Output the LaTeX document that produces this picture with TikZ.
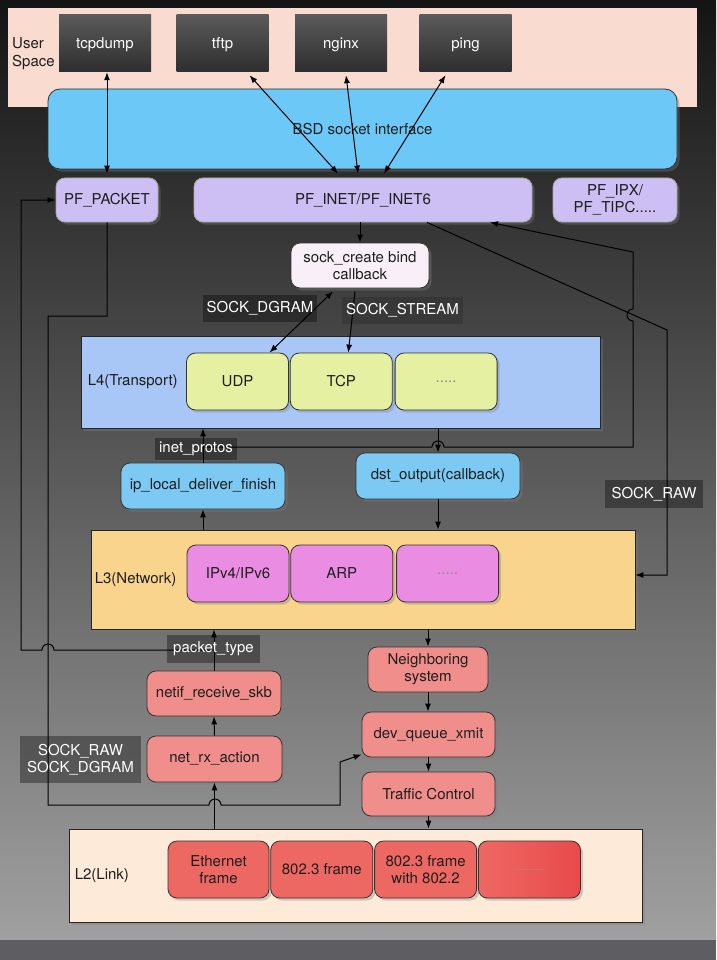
\documentclass[tikz,border=0pt]{standalone}
\usepackage{fontspec}
\setmainfont{TeX Gyre Heros}
\usepackage{xcolor}
\usepackage{tikz}
\usetikzlibrary{arrows.meta,positioning,shadows}
\definecolor{bgtop}{HTML}{141414}
\definecolor{bgbot}{HTML}{A0A0A0}
\definecolor{band}{HTML}{5E5E62}
\definecolor{ink}{HTML}{1E1E1E}
\definecolor{usr}{HTML}{FADBCF}
\definecolor{appdark}{HTML}{2E2E2E}
\definecolor{applight}{HTML}{5A5A5A}
\definecolor{bsd}{HTML}{6CC8F6}
\definecolor{pf}{HTML}{CDBEF4}
\definecolor{sock}{HTML}{F8EFF8}
\definecolor{trans}{HTML}{A8C6F6}
\definecolor{lime}{HTML}{E6F0A2}
\definecolor{callc}{HTML}{7CC9F4}
\definecolor{net}{HTML}{F9D48C}
\definecolor{ipc}{HTML}{EA8DE2}
\definecolor{drv}{HTML}{F08E8C}
\definecolor{link}{HTML}{FDEAD9}
\definecolor{frm}{HTML}{EE6863}
\definecolor{frmdeep}{HTML}{E84A4A}
\tikzset{
  line/.style={draw=black, line width=1pt},
  arr/.style={line, -{Latex[length=8pt,width=6pt]}},
  rarr/.style={line, {Latex[length=8pt,width=6pt]}-},
  both/.style={line, {Latex[length=8pt,width=6pt]}-{Latex[length=8pt,width=6pt]}},
  app/.style={top color=applight, bottom color=appdark, text=white, minimum width=92pt, inner ysep=0pt, text height=34pt, text depth=23pt},
  layer/.style={draw=black!85, line width=0.8pt, drop shadow={opacity=0.35}},
  box/.style={draw=black!80, line width=0.8pt, rounded corners=9pt, align=center, drop shadow={opacity=0.35}},
  pfbox/.style={box, fill=pf, draw=black!35, minimum height=44pt},
  proto/.style={box, minimum width=102pt, minimum height=57pt},
  callbox/.style={box, fill=callc, minimum width=164pt, minimum height=46pt},
  drvbox/.style={box, fill=drv, minimum height=45pt},
  tag/.style={fill=black, fill opacity=0.35, text opacity=1, text=white, inner xsep=4pt, minimum height=27pt, align=center},
  lbl/.style={anchor=west, inner sep=0pt},
}
\begin{document}
\begin{tikzpicture}[x=1pt, y=-1pt, every node/.style={font=\fontsize{15}{17}\selectfont, text=ink}]
\useasboundingbox (0,0) rectangle (716,960);
\shade[top color=bgtop, bottom color=bgbot] (0,0) rectangle (716,940);
\fill[band] (0,940) rectangle (716,960);

\node[fill=usr, minimum width=689pt, minimum height=99pt, inner sep=0pt] (user) at (352.5,57.5) {};
\node[lbl, align=left] (userlbl) at (12,54) {User\\[1pt]Space};
\node[app] (tcpdump) at (105,43.5) {tcpdump};
\node[app] (tftp) at (222.5,43.5) {tftp};
\node[app] (nginx) at (341,43.5) {nginx};
\node[app] (ping) at (465.5,43.5) {ping};

\node[box, fill=bsd, rounded corners=12pt, minimum width=629pt, minimum height=80pt] (bsd) at (362.5,129) {BSD socket interface};

\node[pfbox, minimum width=102pt] (pfpacket) at (107,200) {PF\_PACKET};
\node[pfbox, minimum width=338pt] (pfinet) at (363,200) {PF\_INET/PF\_INET6};
\node[pfbox, minimum width=124pt] (pfipx) at (615,200) {PF\_IPX/\\PF\_TIPC.....};

\node[box, fill=sock, minimum width=138pt, minimum height=45pt] (sockcreate) at (360,265.5) {sock\_create bind\\callback};

\node[layer, fill=trans, minimum width=519pt, minimum height=92pt] (l4) at (340.5,382) {};
\node[lbl, xshift=7pt] (l4lbl) at (l4.west) {L4(Transport)};
\node[proto, fill=lime] (udp) at (237.5,381.5) {UDP};
\node[proto, fill=lime, right=1pt of udp] (tcp) {TCP};
\node[proto, fill=lime, right=2pt of tcp] (l4more) {\textcolor{black!45}{.....}};

\node[callbox] (iplocal) at (203,486) {ip\_local\_deliver\_finish};
\node[callbox] (dstout) at (438,476) {dst\_output(callback)};

\node[layer, fill=net, minimum width=544pt, minimum height=99pt] (l3) at (363,579.5) {};
\node[lbl, xshift=4pt] (l3lbl) at (l3.west) {L3(Network)};
\node[proto, fill=ipc] (ipv) at (238,573.5) {IPv4/IPv6};
\node[proto, fill=ipc, right=1pt of ipv] (arp) {ARP};
\node[proto, fill=ipc, right=3pt of arp] (l3more) {\textcolor{black!45}{.....}};

\node[drvbox, minimum width=120pt] (neigh) at (428,669.5) {Neighboring\\system};
\node[drvbox, minimum width=134pt] (netif) at (214,693.5) {netif\_receive\_skb};
\node[drvbox, minimum width=133pt] (devq) at (428.5,734.5) {dev\_queue\_xmit};
\node[drvbox, minimum width=135pt, minimum height=46pt] (netrx) at (214.5,759) {net\_rx\_action};
\node[drvbox, minimum width=133pt, minimum height=44pt] (tc) at (428.5,794) {Traffic Control};

\node[layer, fill=link, minimum width=573pt, minimum height=93pt] (l2) at (355.5,875.5) {};
\node[lbl, xshift=6pt] (l2lbl) at (l2.west) {L2(Link)};
\node[proto, fill=frm, minimum width=101pt] (eth) at (218.5,869.5) {Ethernet\\frame};
\node[proto, fill=frm, right=1pt of eth] (dot3) {802.3 frame};
\node[proto, fill=frm, right=1pt of dot3] (dot2) {802.3 frame\\with 802.2};
\node[proto, left color=frm, right color=frmdeep, right=1pt of dot2] (l2more) {\textcolor{black!40}{\fontsize{10}{12}\selectfont ...........}};

\coordinate (protojn) at (203,447);
\coordinate (ptjn) at (214,650);
\coordinate (rawup) at (633,252);
\coordinate (rawdn) at (667,330);

\draw[both] (tcpdump.south -| pfpacket.north) -- ([shift={(0,-4)}]pfpacket.north);
\draw[both] ([shift={(27,3)}]tftp.south) -- ([shift={(-25,-4)}]pfinet.north);
\draw[both] ([shift={(5,3)}]nginx.south) -- ([shift={(-5,-4)}]pfinet.north);
\draw[both] ([shift={(-20,3)}]ping.south) -- ([shift={(21,-4)}]pfinet.north);
\draw[arr] (sockcreate.north |- pfinet.south) -- (sockcreate.north);
\draw[both] ([shift={(-27,3)}]sockcreate.south) -- ([shift={(32,0)}]udp.north);
\draw[arr] ([shift={(-5,3)}]sockcreate.south) -- ([shift={(7,0)}]tcp.north);

\draw[rarr] ([shift={(127,0)}]pfinet.south) -- (rawup) -- (633,309)
  arc[start angle=-90, end angle=-270, radius=6] -- (633,447) -- (444,447)
  arc[start angle=0, end angle=-180, radius=6] -- (protojn);
\draw[arr] ([shift={(64,0)}]pfinet.south) -- (rawdn) -- (667,575) -- ([shift={(0,-4.5)}]l3.east);
\draw[arr] (iplocal.north) -- (iplocal.north |- l4.south);
\draw[arr] (dstout.north |- l4.south) -- (dstout.north);
\draw[arr] (iplocal.south |- l3.north) -- (iplocal.south);
\draw[arr] (dstout.south) -- (dstout.south |- l3.north);

\draw[arr] (netif.north) -- (netif.north |- l3.south);
\draw[arr] (ptjn) -- (54,650) arc[start angle=0, end angle=-180, radius=6] -- (21,650) -- (21,200) -- (pfpacket.west);
\draw[arr] (pfpacket.south) -- (107,316) -- (48,316) -- (48,805) -- (209,805)
  arc[start angle=180, end angle=360, radius=6] -- (340,805) -- (340,762) -- ([shift={(0,20)}]devq.west);
\draw[arr] (netrx.north) -- (netif.south);
\draw[arr] (netrx.south |- l2.north) -- (netrx.south);
\draw[arr] (neigh.north |- l3.south) -- (neigh.north);
\draw[arr] (neigh.south) -- (neigh.south |- devq.north);
\draw[arr] (devq.south) -- (devq.south |- tc.north);
\draw[arr] (tc.south) -- (tc.south |- l2.north);

\node[tag, minimum width=114pt] (dgramlbl) at (260,308.5) {SOCK\_DGRAM};
\node[tag, fill opacity=0.15, minimum width=121pt] (streamlbl) at (402.5,310) {SOCK\_STREAM};
\node[tag, minimum width=82pt, minimum height=22pt] (protolbl) at (196,449) {inet\_protos};
\node[tag, minimum width=98pt, minimum height=28pt] (rawlbl) at (654,494) {SOCK\_RAW};
\node[tag, minimum width=93pt, minimum height=28pt] (ptlbl) at (213.5,649) {packet\_type};
\node[tag, minimum width=121pt, minimum height=47pt] (pktlbl) at (80.5,759.5) {SOCK\_RAW\\SOCK\_DGRAM};
\end{tikzpicture}
\end{document}
